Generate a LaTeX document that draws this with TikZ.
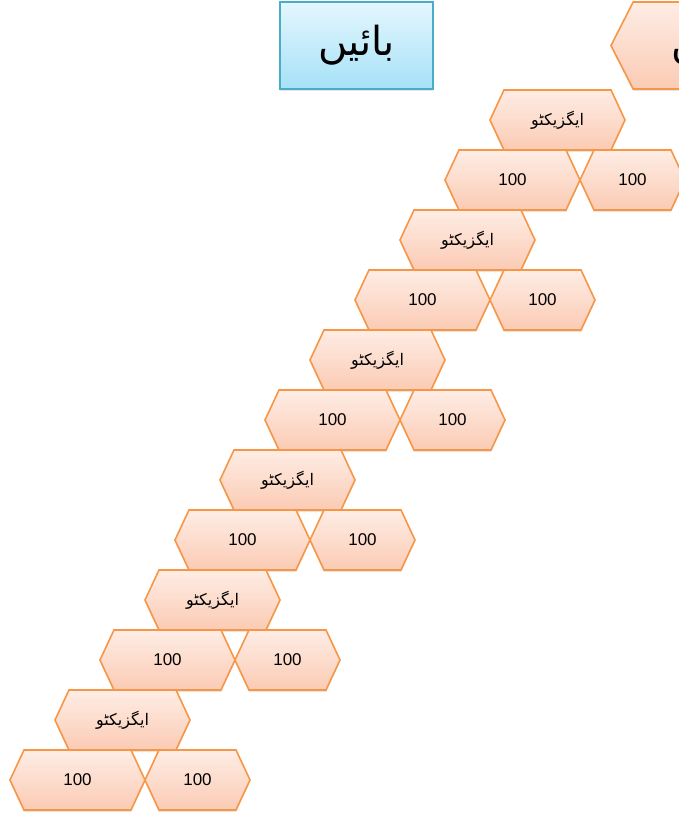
\documentclass[tikz,border=0pt]{standalone}
\usepackage{fontspec}
\setmainfont{Liberation Sans}
\newfontfamily\urdufont[Script=Arabic]{DejaVu Sans}
\TeXXeTstate=1
\usetikzlibrary{shapes.symbols,shadows}

\definecolor{hexline}{HTML}{F79646}
\definecolor{hextop}{HTML}{FEEDE5}
\definecolor{hexbot}{HTML}{FBCBB4}
\definecolor{boxline}{HTML}{4BACC6}
\definecolor{boxtop}{HTML}{E4F7FE}
\definecolor{boxbot}{HTML}{A6E1F7}

\newcommand{\urdu}[1]{{\urdufont\beginR #1\endR}}

\begin{document}
\begin{tikzpicture}[x=1pt, y=-1pt,
        hexa/.style={signal, signal to=west and east, signal pointer angle=130, draw=hexline, line width=1.6pt,
            top color=hextop, bottom color=hexbot, minimum height=60pt, inner sep=0pt,
            drop shadow={shadow xshift=0pt, shadow yshift=-2pt, opacity=0.2}},
        wide/.style={hexa, minimum width=135pt, font=\fontsize{17}{20}\selectfont},
        narrow/.style={hexa, minimum width=105pt, font=\fontsize{17}{20}\selectfont},
        exec/.style={hexa, minimum width=135pt, font=\fontsize{16}{19}\selectfont},
        side/.style={draw=boxline, line width=1.8pt, top color=boxtop, bottom color=boxbot,
            minimum width=153pt, minimum height=87pt, inner sep=0pt, font=\fontsize{40}{44}\selectfont,
            drop shadow={shadow xshift=0pt, shadow yshift=-2pt, opacity=0.2}}]

        \useasboundingbox (0,0) rectangle (679,813);
        \clip (0,0) rectangle (679,813);

        \node[side] (left) at (356.5, 45.5) {\urdu{بائیں}};
        \node[hexa, signal pointer angle=126, minimum width=204pt, minimum height=87pt,
            font=\fontsize{40}{44}\selectfont] (right) at (713, 45.5) {\urdu{دائیں}};

        \node[exec]   (ex6)  at (557.5, 120) {\urdu{ایگزیکٹو}};
        \node[wide]   (lo6)  at (512.5, 180) {100};
        \node[narrow] (ro6)  at (632.5, 180) {100};

        \node[exec]   (ex5)  at (467.5, 240) {\urdu{ایگزیکٹو}};
        \node[wide]   (lo5)  at (422.5, 300) {100};
        \node[narrow] (ro5)  at (542.5, 300) {100};

        \node[exec]   (ex4)  at (377.5, 360) {\urdu{ایگزیکٹو}};
        \node[wide]   (lo4)  at (332.5, 420) {100};
        \node[narrow] (ro4)  at (452.5, 420) {100};

        \node[exec]   (ex3)  at (287.5, 480) {\urdu{ایگزیکٹو}};
        \node[wide]   (lo3)  at (242.5, 540) {100};
        \node[narrow] (ro3)  at (362.5, 540) {100};

        \node[exec]   (ex2)  at (212.5, 600) {\urdu{ایگزیکٹو}};
        \node[wide]   (lo2)  at (167.5, 660) {100};
        \node[narrow] (ro2)  at (287.5, 660) {100};

        \node[exec]   (ex1)  at (122.5, 720) {\urdu{ایگزیکٹو}};
        \node[wide]   (lo1)  at (77.5, 780)  {100};
        \node[narrow] (ro1)  at (197.5, 780) {100};

    \end{tikzpicture}
\end{document}
